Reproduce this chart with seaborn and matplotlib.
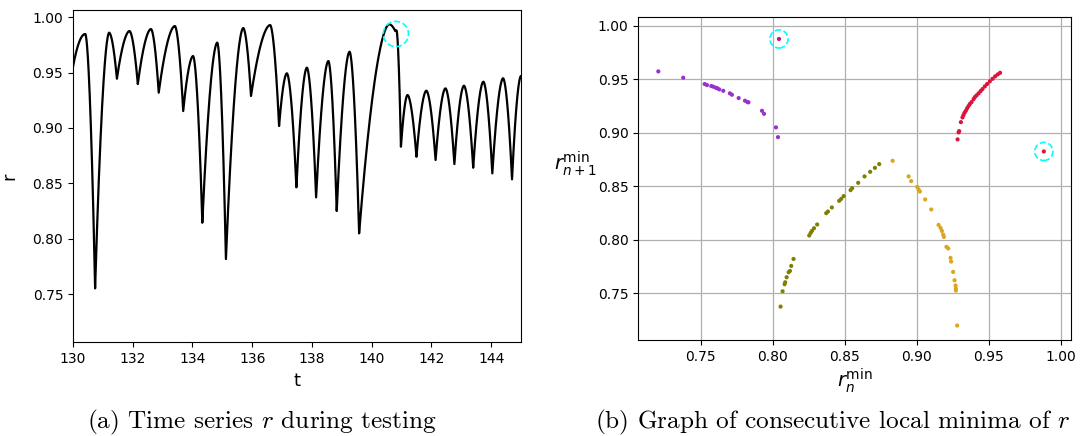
import numpy as np
import pandas as pd
import matplotlib
matplotlib.use("Agg")
import matplotlib.pyplot as plt
import seaborn as sns

# ---------------- data ----------------
# local extrema of the time series r(t), in time order
ts_t = [130.00, 130.41, 130.74, 131.21, 131.47, 131.89, 132.17, 132.61, 132.87,
        133.41, 133.69, 134.02, 134.33, 134.83, 135.12, 135.70, 135.96, 136.60,
        136.90, 137.16, 137.48, 137.83, 138.14, 138.55, 138.83, 139.26, 139.58,
        140.59, 140.79, 140.83, 140.98, 141.20, 141.50, 141.83, 142.14, 142.47,
        142.77, 143.09, 143.40, 143.74, 144.04, 144.40, 144.70, 145.00]
ts_r = [0.9554, 0.9849, 0.7551, 0.9861, 0.9445, 0.9876, 0.9397, 0.9894, 0.9319,
        0.9921, 0.9153, 0.9650, 0.8144, 0.9771, 0.7816, 0.9903, 0.9289, 0.9930,
        0.9018, 0.9494, 0.8464, 0.9545, 0.8373, 0.9605, 0.8250, 0.9689, 0.8048,
        0.9937, 0.9876, 0.9882, 0.8831, 0.9298, 0.8740, 0.9337, 0.8711, 0.9358,
        0.8674, 0.9382, 0.8641, 0.9418, 0.8590, 0.9449, 0.8536, 0.9470]

# consecutive local minima (r_n^min, r_{n+1}^min), by cluster
purple_x = [0.7204, 0.7377, 0.7526, 0.7542, 0.7572, 0.7586, 0.7604, 0.7613, 0.7627,
            0.7655, 0.7701, 0.7715, 0.7762, 0.7806, 0.7822, 0.7830, 0.7924, 0.7938,
            0.8021, 0.8035]
purple_y = [0.9573, 0.9514, 0.9455, 0.9445, 0.9436, 0.9430, 0.9420, 0.9416, 0.9405,
            0.9392, 0.9368, 0.9355, 0.9324, 0.9299, 0.9287, 0.9284, 0.9205, 0.9177,
            0.9050, 0.8959]
crimson_x = [0.9282, 0.9289, 0.9293, 0.9305, 0.9316, 0.9323, 0.9330, 0.9339, 0.9348,
             0.9358, 0.9367, 0.9379, 0.9393, 0.9402, 0.9414, 0.9428, 0.9442, 0.9455,
             0.9471, 0.9487, 0.9506, 0.9525, 0.9543, 0.9561, 0.9577]
crimson_y = [0.8938, 0.9003, 0.9015, 0.9099, 0.9143, 0.9165, 0.9186, 0.9205, 0.9228,
             0.9249, 0.9268, 0.9286, 0.9314, 0.9333, 0.9349, 0.9368, 0.9389, 0.9408,
             0.9433, 0.9455, 0.9480, 0.9504, 0.9527, 0.9545, 0.9560]
olive_x = [0.8053, 0.8067, 0.8081, 0.8085, 0.8095, 0.8109, 0.8118, 0.8127, 0.8143,
           0.8252, 0.8262, 0.8271, 0.8285, 0.8307, 0.8370, 0.8382, 0.8409, 0.8460,
           0.8474, 0.8491, 0.8539, 0.8550, 0.8592, 0.8636, 0.8675, 0.8708, 0.8738]
olive_y = [0.7376, 0.7519, 0.7585, 0.7603, 0.7650, 0.7697, 0.7709, 0.7756, 0.7821,
           0.8040, 0.8064, 0.8083, 0.8108, 0.8143, 0.8249, 0.8264, 0.8302, 0.8364,
           0.8382, 0.8408, 0.8464, 0.8482, 0.8532, 0.8592, 0.8635, 0.8672, 0.8707]
gold_x = [0.8831, 0.8942, 0.8960, 0.9002, 0.9011, 0.9020, 0.9057, 0.9099, 0.9150,
          0.9164, 0.9173, 0.9182, 0.9187, 0.9205, 0.9217, 0.9233, 0.9237, 0.9251,
          0.9261, 0.9268, 0.9270, 0.9270, 0.9279]
gold_y = [0.8738, 0.8592, 0.8548, 0.8494, 0.8470, 0.8451, 0.8377, 0.8283, 0.8139,
          0.8111, 0.8083, 0.8049, 0.8027, 0.7934, 0.7919, 0.7831, 0.7797, 0.7700,
          0.7622, 0.7573, 0.7545, 0.7526, 0.7199]
outlier_x = [0.8042, 0.9881]
outlier_y = [0.9876, 0.8825]
outlier_c = ["#c0157a", "crimson"]

# highlighted (circled) locations
circ_left = (140.81, 0.9849)
circ_right_x = [0.8042, 0.9881]
circ_right_y = [0.9876, 0.8825]


def smooth_curve(tk, vk, n=80, p=1.8):
    """Draw a smooth line through the read extrema (rounded maxima, narrow minima)."""
    T, V = [], []
    for i in range(len(tk) - 1):
        s = np.linspace(0, 1, n, endpoint=False)
        t0, t1, v0, v1 = tk[i], tk[i + 1], vk[i], vk[i + 1]
        if i == 0:
            f = 1 - (1 - s) ** 2
        elif v1 > v0:
            f = 1 - (1 - s) ** p
        else:
            f = s ** p
        T.append(t0 + (t1 - t0) * s)
        V.append(v0 + (v1 - v0) * f)
    T.append([tk[-1]]); V.append([vk[-1]])
    return np.concatenate(T), np.concatenate(V)


# ---------------- style ----------------
sns.set_style("ticks", {"axes.edgecolor": "black", "xtick.color": "black",
                        "ytick.color": "black", "text.color": "black",
                        "axes.labelcolor": "black", "grid.color": "#b0b0b0"})
plt.rcParams["font.family"] = ["DejaVu Sans"]
plt.rcParams["mathtext.fontset"] = "dejavusans"

fig = plt.figure(figsize=(10.8, 4.36), dpi=100)
ax1 = fig.add_axes([0.0676, 0.2149, 0.4148, 0.7622])
ax2 = fig.add_axes([0.5910, 0.2202, 0.4006, 0.7415])

# ---- left: time series ----
T, V = smooth_curve(ts_t, ts_r)
df_ts = pd.DataFrame({"t": T, "r": V})
sns.lineplot(data=df_ts, x="t", y="r", ax=ax1, color="black", linewidth=1.6,
             sort=False, estimator=None)
ax1.scatter([circ_left[0]], [circ_left[1]], s=330, facecolors="none",
            edgecolors="cyan", linestyles="--", linewidths=1.2, zorder=5)
ax1.set_xlim(130, 145)
ax1.set_ylim(0.7064, 1.0066)
ax1.set_xticks([130, 132, 134, 136, 138, 140, 142, 144])
ax1.set_yticks([0.75, 0.80, 0.85, 0.90, 0.95, 1.00])
ax1.set_xlabel("t", fontsize=13)
ax1.set_ylabel("r", fontsize=13, rotation=90, labelpad=10)
ax1.tick_params(labelsize=10)

# ---- right: consecutive minima ----
frames = []
for name, xs, ys in [("purple", purple_x, purple_y), ("crimson", crimson_x, crimson_y),
                     ("olive", olive_x, olive_y), ("gold", gold_x, gold_y)]:
    frames.append(pd.DataFrame({"rn": xs, "rn1": ys, "cluster": name}))
df_sc = pd.concat(frames, ignore_index=True)
palette = {"purple": "darkorchid", "crimson": "crimson", "olive": "olive",
           "gold": "goldenrod"}
sns.scatterplot(data=df_sc, x="rn", y="rn1", hue="cluster", palette=palette,
                s=9, linewidth=0, ax=ax2, legend=False, zorder=3)
sns.scatterplot(x=outlier_x, y=outlier_y, hue=outlier_c, palette={c: c for c in outlier_c},
                s=9, linewidth=0, ax=ax2, legend=False, zorder=3)
ax2.scatter(circ_right_x, circ_right_y, s=170, facecolors="none", edgecolors="cyan",
            linestyles="--", linewidths=1.2, zorder=4)
ax2.set_xlim(0.7065, 1.0069)
ax2.set_ylim(0.7064, 1.0084)
ax2.set_xticks([0.75, 0.80, 0.85, 0.90, 0.95, 1.00])
ax2.set_yticks([0.75, 0.80, 0.85, 0.90, 0.95, 1.00])
ax2.grid(True, linewidth=0.9, color="#b0b0b0")
ax2.set_axisbelow(True)
ax2.set_xlabel(r"$r_n^{\mathrm{min}}$", fontsize=14, labelpad=2)
ax2.set_ylabel(r"$r_{n+1}^{\mathrm{min}}$", fontsize=14, rotation=0, labelpad=16)
ax2.tick_params(labelsize=10)

# ---- captions ----
fig.text(0.243, 0.032, "(a) Time series $r$ during testing", ha="center", va="center",
         fontsize=18.2, family="cmr10", math_fontfamily="cm")
fig.text(0.771, 0.032, "(b) Graph of consecutive local minima of $r$", ha="center",
         va="center", fontsize=18.2, family="cmr10", math_fontfamily="cm")

fig.savefig("out.png", dpi=100)
